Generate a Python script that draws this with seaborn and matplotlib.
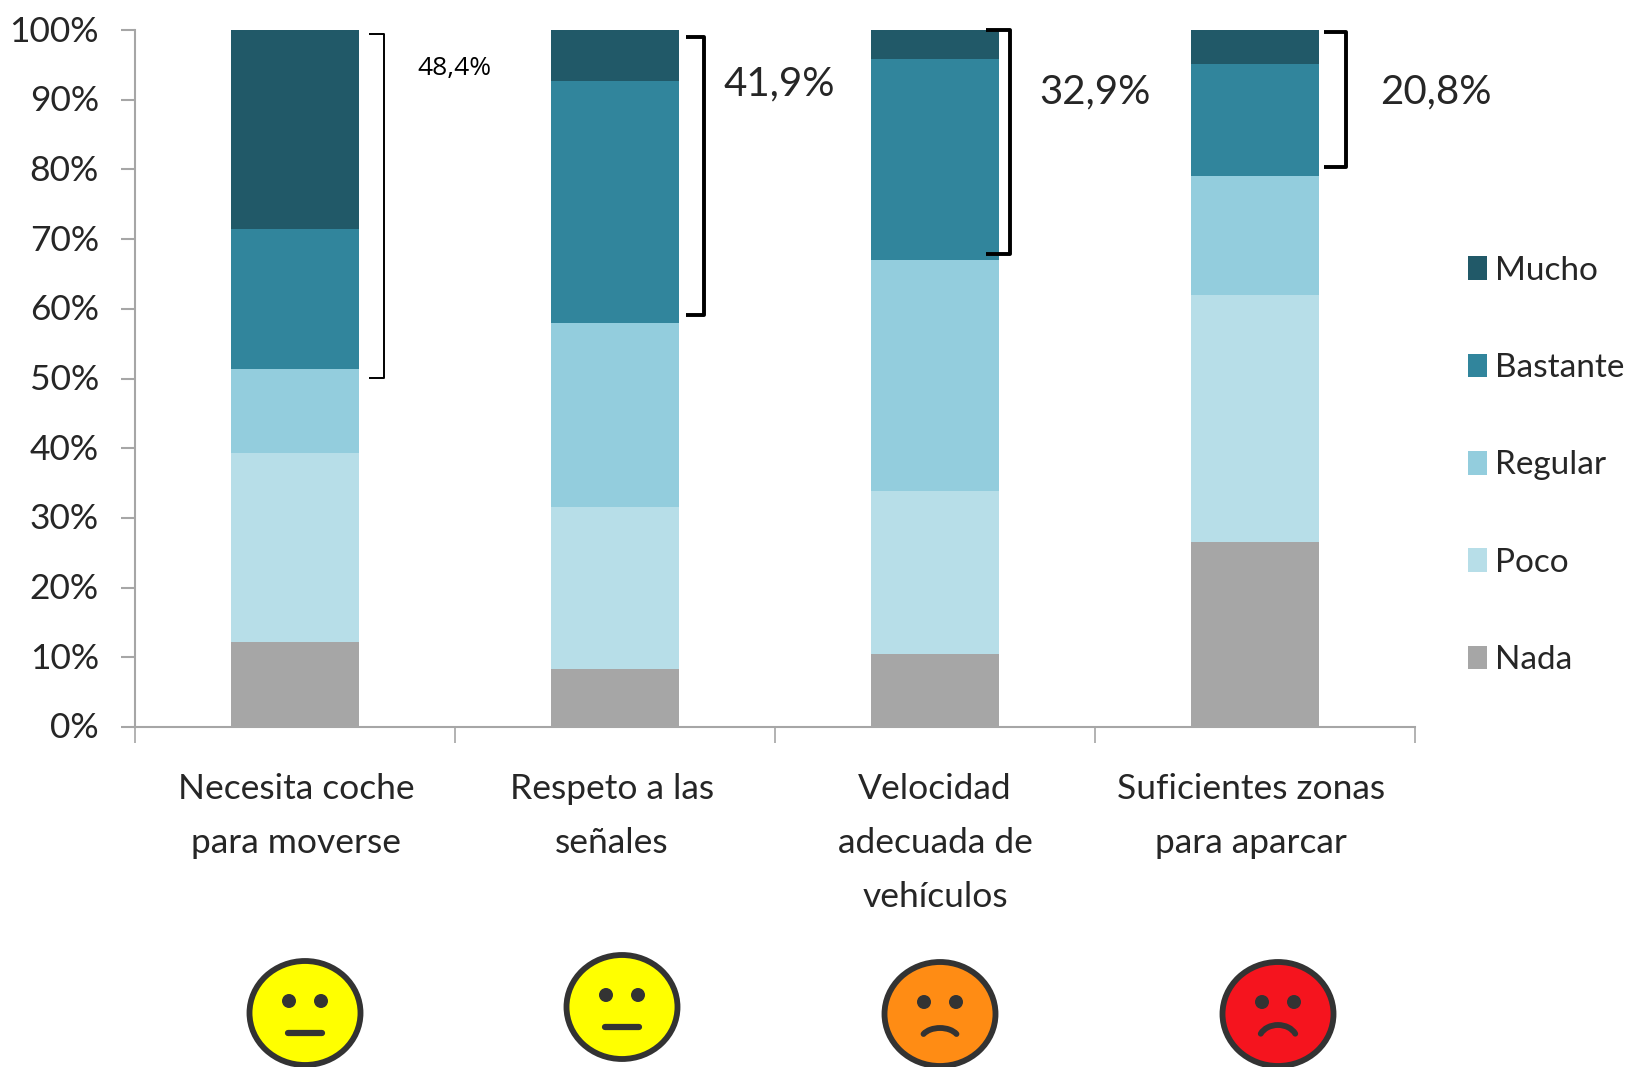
import matplotlib
matplotlib.use("Agg")
import matplotlib.pyplot as plt
from matplotlib.patches import Arc, Ellipse, Patch
from matplotlib.transforms import ScaledTranslation
import pandas as pd
import seaborn as sns

# Data
categories = ["Necesita coche\npara moverse", "Respeto a las\nseñales",
              "Velocidad\nadecuada de\nvehículos", "Suficientes zonas\npara aparcar"]
levels = ["Mucho", "Bastante", "Regular", "Poco", "Nada"]
mucho = [28.5, 7.3, 4.2, 4.9]
bastante = [20.1, 34.8, 28.8, 16.0]
regular = [12.1, 26.4, 33.2, 17.1]
poco = [27.1, 23.2, 23.3, 35.4]
nada = [12.2, 8.3, 10.5, 26.6]
colors = ["#215968", "#31859C", "#93CDDD", "#B7DEE8", "#A6A6A6"]
y_ticks = list(range(0, 101, 10))
bracket_labels = ["48,4%", "41,9%", "32,9%", "20,8%"]

W, H = 1628, 1067
FONT = "Lato"
TEXT = "#262626"
GREY = "#A6A6A6"

sns.set_theme(style="white")
plt.rcParams["font.family"] = [FONT, "DejaVu Sans"]

df = pd.DataFrame({"categoria": categories, "Mucho": mucho, "Bastante": bastante,
                   "Regular": regular, "Poco": poco, "Nada": nada})
long_df = df.melt(id_vars="categoria", value_vars=levels, var_name="nivel", value_name="valor")
long_df["categoria"] = pd.Categorical(long_df["categoria"], categories=categories)
long_df["nivel"] = pd.Categorical(long_df["nivel"], categories=levels)

fig = plt.figure(figsize=(W / 100, H / 100), dpi=100, facecolor="white")
ax = fig.add_axes([135 / W, 1 - 727 / H, 1280 / W, 697 / H])

sns.histplot(data=long_df, x="categoria", weights="valor", hue="nivel", hue_order=levels,
             multiple="stack", palette=colors, discrete=True, shrink=0.4, alpha=1,
             linewidth=0, legend=False, ax=ax)

ax.set_xlim(-0.5, 3.5)
ax.set_ylim(0, 100)
ax.set_xlabel("")
ax.set_ylabel("")
ax.set_yticks(y_ticks)
ax.set_yticklabels([f"{t}%" for t in y_ticks], fontsize=25.5, color=TEXT)
ax.set_xticks(range(len(categories)))
ax.set_xticklabels(categories, fontsize=25.5, color=TEXT, linespacing=1.84)
ax.set_xticks([-0.5, 0.5, 1.5, 2.5, 3.5], minor=True)
ax.tick_params(axis="x", which="major", length=0, pad=33)
ax.tick_params(axis="x", which="minor", bottom=True, length=11.5, width=1.2, color=GREY, direction="out")
ax.tick_params(axis="y", length=10, width=1.5, color=GREY, direction="out", pad=16, left=True)
for side in ["top", "right"]:
    ax.spines[side].set_visible(False)
for side in ["left", "bottom"]:
    ax.spines[side].set_color(GREY)
    ax.spines[side].set_linewidth(1.5)

# Small nudges of the tick labels, in pixels
for label, dx in zip(ax.get_xticklabels(), [1, -3, 0, -4]):
    label.set_transform(label.get_transform() + ScaledTranslation(dx / 100, 0, fig.dpi_scale_trans))
for label in ax.get_yticklabels():
    label.set_transform(label.get_transform() + ScaledTranslation(0, 1.5 / 100, fig.dpi_scale_trans))

handles = [Patch(facecolor=c, edgecolor="none") for c in colors]
fig.legend(handles, levels, loc="center left", bbox_to_anchor=(1468 / W, 1 - 465.5 / H),
           frameon=False, fontsize=24, labelcolor=TEXT, labelspacing=2.02,
           handletextpad=0.24, handlelength=0.57, handleheight=0.72, borderpad=0, borderaxespad=0)

# Overlay in pixel coordinates for brackets and faces
over = fig.add_axes([0, 0, 1, 1], zorder=5)
over.set_xlim(0, W)
over.set_ylim(H, 0)
over.axis("off")
over.patch.set_alpha(0)


def bracket(x0, x1, y0, y1, lw):
    over.plot([x0, x1, x1, x0], [y0, y0, y1, y1], color="black", lw=lw,
              solid_joinstyle="round", solid_capstyle="butt")


bracket(369, 384, 34, 378, 1.4)
bracket(686, 704, 37, 315, 2.8)
bracket(986, 1010, 30, 254, 2.8)
bracket(1324, 1346, 32, 167, 2.8)

over.text(454, 69, bracket_labels[0], fontsize=19, family="Open Sans", color="black", ha="center", va="center")
over.text(779, 84, bracket_labels[1], fontsize=29, color=TEXT, ha="center", va="center")
over.text(1095, 92, bracket_labels[2], fontsize=29, color=TEXT, ha="center", va="center")
over.text(1436, 92, bracket_labels[3], fontsize=29, color=TEXT, ha="center", va="center")


def face(cx, cy, fill, mouth_height):
    line = "#333333"
    over.add_patch(Ellipse((cx, cy), 111, 104, facecolor=fill, edgecolor=line, lw=4.2))
    for dx in (-16, 16):
        over.add_patch(Ellipse((cx + dx, cy - 12), 14, 14, facecolor=line, edgecolor="none"))
    if mouth_height == 0:
        over.plot([cx - 17, cx + 17], [cy + 20, cy + 20], color=line, lw=4.5, solid_capstyle="round")
    else:
        over.add_patch(Arc((cx, cy + 26), 38, mouth_height, theta1=200, theta2=340, color=line, lw=4.2, capstyle="round"))


face(305, 1013, "#FFFF00", 0)
face(622, 1007, "#FFFF00", 0)
face(940, 1014, "#FF8C14", 24)
face(1278, 1014, "#F5141E", 30)

fig.savefig("out.png", dpi=100)
